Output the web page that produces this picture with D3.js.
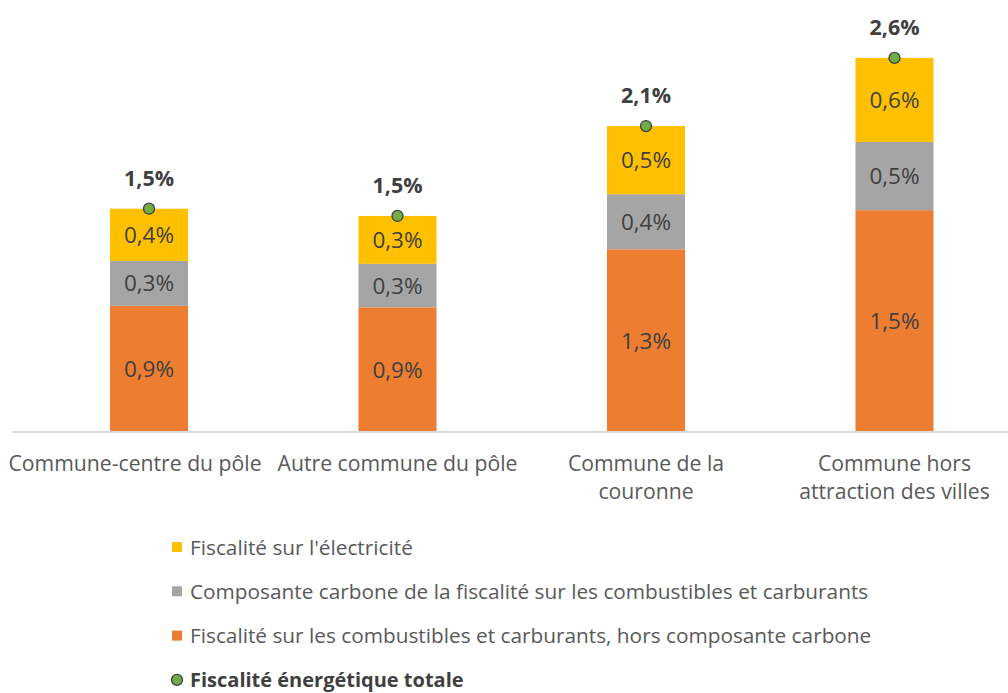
<!DOCTYPE html>
<html lang="fr">
<head>
<meta charset="utf-8">
<script src="https://cdn.jsdelivr.net/npm/d3@7"></script>
<style>
  html, body { margin: 0; padding: 0; background: #ffffff; }
  svg { display: block; font-family: "Open Sans", Lato, sans-serif; }
</style>
</head>
<body>
<svg id="chart" width="1008" height="693"></svg>
<script>
// Categories (line breaks mark where the axis label wraps)
const categories = [
  "Commune-centre du pôle",
  "Autre commune du pôle",
  "Commune de la\ncouronne",
  "Commune hors\nattraction des villes"
];

// Share of income, in %
const fuelExclCarbon = [0.87, 0.86, 1.26, 1.53];   // Fiscalité sur les combustibles et carburants, hors composante carbone
const carbonComponent = [0.31, 0.30, 0.38, 0.47];  // Composante carbone
const electricityTax = [0.36, 0.33, 0.47, 0.58];   // Fiscalité sur l'électricité
const totalTax = [1.54, 1.49, 2.11, 2.58];         // Fiscalité énergétique totale

const seriesNames = [
  "Fiscalité sur les combustibles et carburants, hors composante carbone",
  "Composante carbone de la fiscalité sur les combustibles et carburants",
  "Fiscalité sur l'électricité"
];
const totalName = "Fiscalité énergétique totale";
const seriesColors = ["#ED7D31", "#A5A5A5", "#FFC000"];
const totalColor = "#70AD47";

const svg = d3.select("#chart");
const baseY = 432;

const fr = d3.formatLocale({ decimal: ",", thousands: " ", grouping: [3], currency: ["", " €"] });
const fmt = v => fr.format(".1f")(v) + "%";

const x = d3.scaleBand().domain(categories).range([24.75, 1018.75]).paddingInner(0.686).paddingOuter(0.343);
const y = d3.scaleLinear().domain([0, 2.6]).range([baseY, baseY - 2.6 * 145]);

const rows = categories.map((c, i) => ({
  cat: c,
  s0: fuelExclCarbon[i],
  s1: carbonComponent[i],
  s2: electricityTax[i],
  total: totalTax[i]
}));
const stack = d3.stack().keys(["s0", "s1", "s2"])(rows);

// Stacked bars
const layers = svg.append("g").selectAll("g")
  .data(stack).join("g")
  .attr("fill", (d, i) => seriesColors[i]);

layers.selectAll("rect")
  .data(d => d).join("rect")
  .attr("x", d => x(d.data.cat))
  .attr("width", x.bandwidth())
  .attr("y", d => y(d[1]))
  .attr("height", d => y(d[0]) - y(d[1]));

// Segment value labels
layers.selectAll("text")
  .data(d => d.map(p => ({ p, key: d.key }))).join("text")
  .attr("x", d => x(d.p.data.cat) + x.bandwidth() / 2)
  .attr("y", d => (y(d.p[0]) + y(d.p[1])) / 2)
  .attr("dy", "0.36em")
  .attr("text-anchor", "middle")
  .attr("fill", "#404040")
  .attr("font-size", 22.5)
  .text(d => fmt(d.p.data[d.key]));

// Category axis
const xAxis = svg.append("g").attr("transform", `translate(0,${baseY})`);
xAxis.append("line")
  .attr("x1", 12).attr("x2", 1008)
  .attr("stroke", "#D9D9D9").attr("stroke-width", 2);

// the first label sits a little left of its bar
const labelShift = [-14, 0, 0, 0];
const catLabels = xAxis.selectAll("text.cat")
  .data(categories).join("text")
  .attr("class", "cat")
  .attr("text-anchor", "middle")
  .attr("fill", "#595959")
  .attr("font-size", 21.2)
  .attr("transform", (d, i) => `translate(${x(d) + x.bandwidth() / 2 + labelShift[i]},0)`);
catLabels.selectAll("tspan")
  .data(d => d.split("\n")).join("tspan")
  .attr("x", 0)
  .attr("y", (d, i) => 39 + i * 28)
  .text(d => d);

// Total markers and labels
const totals = svg.append("g");
totals.selectAll("circle")
  .data(rows).join("circle")
  .attr("cx", d => x(d.cat) + x.bandwidth() / 2)
  .attr("cy", d => y(d.total))
  .attr("r", 5.5)
  .attr("fill", totalColor)
  .attr("stroke", "#404040")
  .attr("stroke-width", 1.3);
totals.selectAll("text")
  .data(rows).join("text")
  .attr("x", d => x(d.cat) + x.bandwidth() / 2)
  .attr("y", d => y(d.total) - 23)
  .attr("text-anchor", "middle")
  .attr("fill", "#404040")
  .attr("font-size", 21.5)
  .attr("font-weight", "bold")
  .text(d => fmt(d.total));

// Legend
const legendItems = [
  { name: seriesNames[2], color: seriesColors[2], type: "rect" },
  { name: seriesNames[1], color: seriesColors[1], type: "rect" },
  { name: seriesNames[0], color: seriesColors[0], type: "rect" },
  { name: totalName, color: totalColor, type: "circle" }
];
const legend = svg.append("g").attr("transform", "translate(172,547)");
const li = legend.selectAll("g")
  .data(legendItems).join("g")
  .attr("transform", (d, i) => `translate(0,${i * 44.3})`);
li.filter(d => d.type === "rect").append("rect")
  .attr("x", 0).attr("y", -5).attr("width", 10).attr("height", 10)
  .attr("fill", d => d.color);
li.filter(d => d.type === "circle").append("circle")
  .attr("cx", 5).attr("cy", 0).attr("r", 5.5)
  .attr("fill", d => d.color)
  .attr("stroke", "#404040").attr("stroke-width", 1.3);
li.append("text")
  .attr("x", 18).attr("dy", "0.36em")
  .attr("fill", d => d.type === "circle" ? "#404040" : "#595959")
  .attr("font-size", d => d.type === "circle" ? 20 : 20.8)
  .attr("font-weight", d => d.type === "circle" ? "bold" : "normal")
  .text(d => d.name);
</script>
</body>
</html>
